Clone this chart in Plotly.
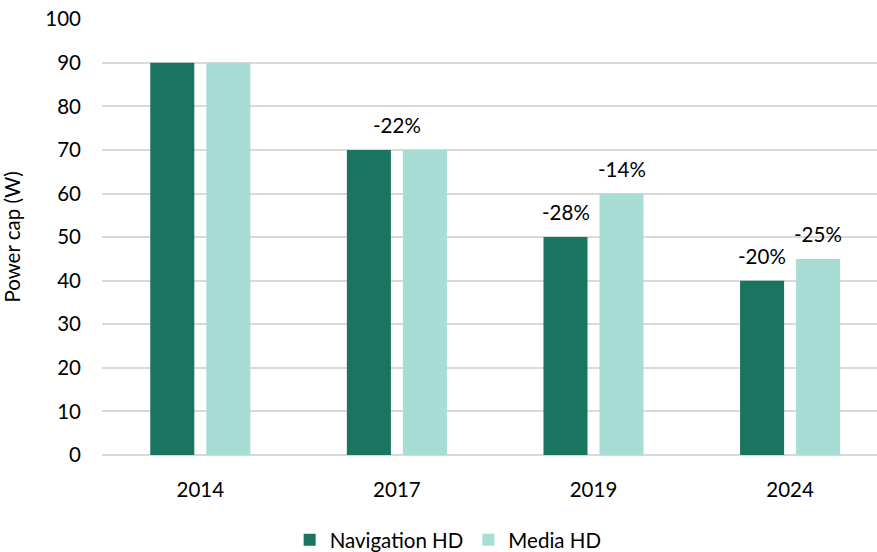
import plotly.graph_objects as go

years = ["2014", "2017", "2019", "2024"]
navigation_hd = [90, 70, 50, 40]
media_hd = [90, 70, 60, 45]
nav_labels = ["", "-22%", "-28%", "-20%"]
media_labels = ["", "", "-14%", "-25%"]

FONT = "Lato, Carlito, Calibri, sans-serif"
FS = 20.5
DARK = "#1a7560"
LIGHT = "#a7ddd4"

fig = go.Figure()
fig.add_trace(go.Bar(x=years, y=navigation_hd, name="Navigation HD", marker_color=DARK,
                     marker_line_width=0))
fig.add_trace(go.Bar(x=years, y=media_hd, name="Media HD", marker_color=LIGHT,
                     marker_line_width=0))

# annotations above bars (x given as category index)
for i, yr in enumerate(years):
    if nav_labels[i] and not media_labels[i]:
        fig.add_annotation(x=i, y=max(navigation_hd[i], media_hd[i]), text=nav_labels[i],
                           showarrow=False, yanchor="bottom", yshift=11,
                           font=dict(family=FONT, size=FS, color="#000"))
    else:
        if nav_labels[i]:
            fig.add_annotation(x=i, y=navigation_hd[i], text=nav_labels[i], xshift=-28,
                               showarrow=False, yanchor="bottom", yshift=11,
                               font=dict(family=FONT, size=FS, color="#000"))
        if media_labels[i]:
            fig.add_annotation(x=i, y=media_hd[i], text=media_labels[i], xshift=28,
                               showarrow=False, yanchor="bottom", yshift=11,
                               font=dict(family=FONT, size=FS, color="#000"))

fig.update_layout(
    width=877, height=552,
    margin=dict(l=102, r=0, t=19, b=97, autoexpand=False),
    paper_bgcolor="white", plot_bgcolor="white",
    barmode="group", bargap=0.43, bargroupgap=0.214,
    font=dict(family=FONT, size=FS, color="#000"),
    showlegend=True,
    legend=dict(orientation="h", xref="container", yref="container",
                x=0.511, xanchor="center", y=0.0217, yanchor="middle",
                font=dict(family=FONT, size=FS, color="#000"),
                itemwidth=30, traceorder="normal"),
    xaxis=dict(type="category", range=[-0.5, 3.442], showgrid=False, showline=False, ticks="",
               tickfont=dict(family=FONT, size=FS), ticklabelstandoff=20, automargin=False),
    yaxis=dict(range=[0, 100.05], tickmode="linear", tick0=0, dtick=10, showgrid=True,
               gridcolor="#d9d9d9", gridwidth=1.5,
               zeroline=True, zerolinecolor="#d9d9d9", zerolinewidth=1.5,
               showline=False, ticks="", tickfont=dict(family=FONT, size=FS),
               ticklabelstandoff=20, ticklabeloverflow="allow", automargin=True,
               title=dict(text="Power cap (W)", font=dict(family=FONT, size=FS), standoff=22)),
)

fig.write_html("out.html", config={"displayModeBar": False},
               post_script="document.body.style.margin='0';document.body.style.overflow='hidden';")
